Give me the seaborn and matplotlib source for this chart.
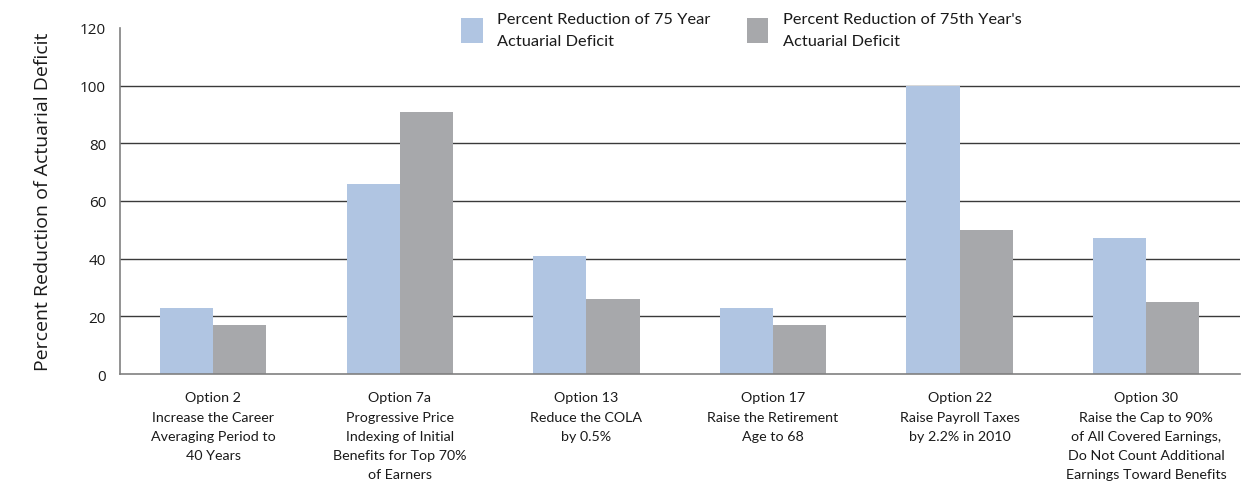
import matplotlib
matplotlib.use("Agg")
import matplotlib.pyplot as plt
import seaborn as sns
import pandas as pd
import numpy as np
from matplotlib.ticker import FixedLocator, NullFormatter

categories = [
    "Option 2\nIncrease the Career\nAveraging Period to\n40 Years",
    "Option 7a\nProgressive Price\nIndexing of Initial\nBenefits for Top 70%\nof Earners",
    "Option 13\nReduce the COLA\nby 0.5%",
    "Option 17\nRaise the Retirement\nAge to 68",
    "Option 22\nRaise Payroll Taxes\nby 2.2% in 2010",
    "Option 30\nRaise the Cap to 90%\nof All Covered Earnings,\nDo Not Count Additional\nEarnings Toward Benefits",
]
series_names = [
    "Percent Reduction of 75 Year\nActuarial Deficit",
    "Percent Reduction of 75th Year's\nActuarial Deficit",
]
reduction_75_year = [23, 66, 41, 23, 100, 47]
reduction_75th_year = [17, 91, 26, 17, 50, 25]
y_ticks = [0, 20, 40, 60, 80, 100, 120]

df = pd.DataFrame({
    "option": categories * 2,
    "series": [series_names[0]] * len(categories) + [series_names[1]] * len(categories),
    "value": reduction_75_year + reduction_75th_year,
})

sns.set_theme(style="white")
plt.rcParams["font.family"] = ["Open Sans", "DejaVu Sans"]
body = ["Open Sans", "DejaVu Sans"]
label_font = ["Lato", "DejaVu Sans"]

fig = plt.figure(figsize=(12.42, 4.89), dpi=100)
ax = fig.add_axes([0.0966, 0.233, 0.9014, 0.708])

palette = ["#B0C5E2", "#A7A8AB"]
sns.barplot(data=df, x="option", y="value", hue="series", palette=palette,
            width=0.57, saturation=1, ax=ax, legend=True, edgecolor="none")

ax.set_ylim(0, 120)
ax.set_xlim(-0.5, len(categories) - 0.5)
ax.set_yticks(y_ticks)
ax.set_yticklabels([str(t) for t in y_ticks], fontsize=11, color="#1a1a1a", family=body)
for y in y_ticks[1:-1]:
    ax.axhline(y, color="#3a3a3a", lw=1.0, zorder=0.5)

# Category labels: drawn as multi-line text under each group with looser leading
ax.set_xticks(range(len(categories)))
ax.set_xticklabels([""] * len(categories))
ax.tick_params(axis="x", which="major", length=0)
for i, name in enumerate(categories):
    ax.text(i, -0.05, name, transform=ax.get_xaxis_transform(), ha="center", va="top",
            fontsize=10.3, color="#1a1a1a", family=label_font, linespacing=1.72)

ax.xaxis.set_minor_locator(FixedLocator(np.arange(-0.5, len(categories), 1.0)))
ax.xaxis.set_minor_formatter(NullFormatter())
ax.tick_params(axis="x", which="minor", length=4, width=1, color="#555555", direction="out")
ax.tick_params(axis="y", length=5, width=1, color="#777777", direction="out", pad=5)

ax.set_xlabel("")
ax.set_ylabel("Percent Reduction of Actuarial Deficit", fontsize=14, color="#1a1a1a",
              labelpad=20, family=body)

for side in ["top", "right"]:
    ax.spines[side].set_visible(False)
for side in ["left", "bottom"]:
    ax.spines[side].set_color("#808080")
    ax.spines[side].set_linewidth(1.2)

leg = ax.legend(loc="upper left", bbox_to_anchor=(0.305, 1.045), ncol=2, frameon=False,
                prop={"family": label_font, "size": 11.8}, handlelength=1.3, handleheight=2.0,
                columnspacing=2.2, handletextpad=0.9, borderpad=0, borderaxespad=0,
                title=None)
for t in leg.get_texts():
    t.set_color("#1a1a1a")
    t.set_linespacing(1.7)

fig.savefig("out.png", dpi=100)
